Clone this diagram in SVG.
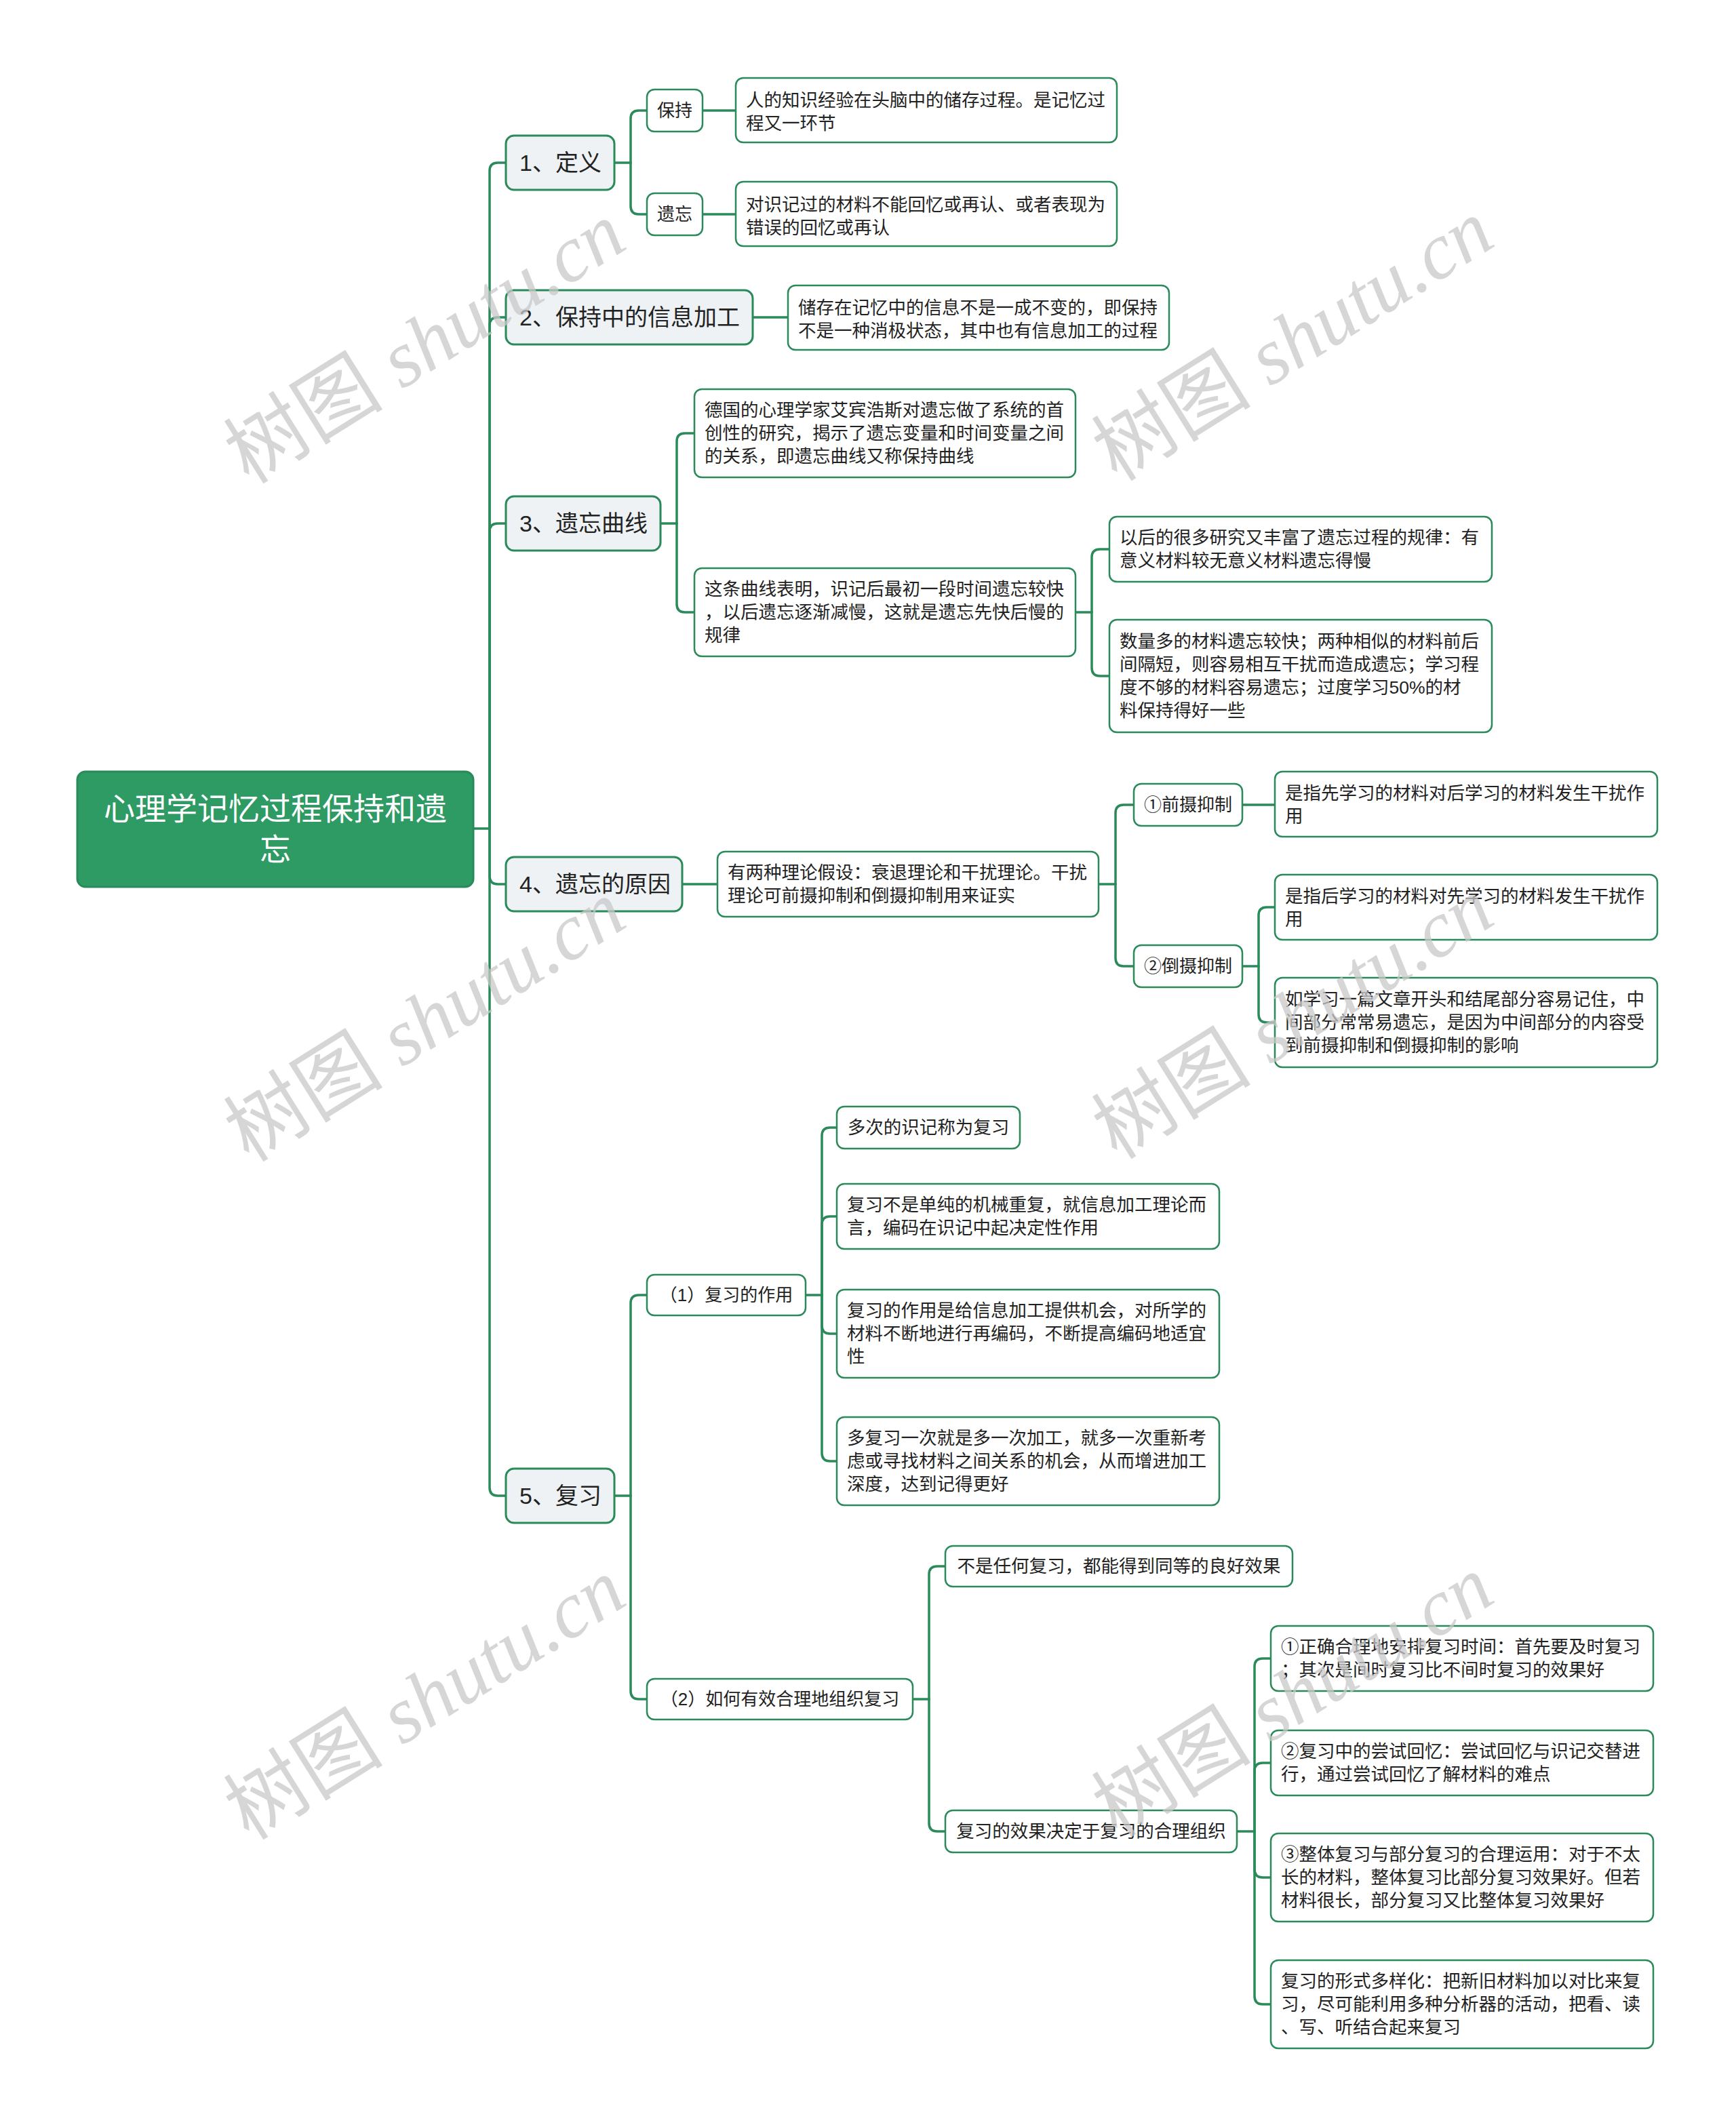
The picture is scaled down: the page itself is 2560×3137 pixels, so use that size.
<svg xmlns="http://www.w3.org/2000/svg" width="2560" height="3137" viewBox="0 0 2560 3137">
<style>
text{font-family:"Liberation Sans","Noto Sans CJK SC",sans-serif;dominant-baseline:central;fill:#222}
.root rect{fill:#2e9a64;stroke:#2a8a5a;stroke-width:3}
.root text{fill:#fff;font-size:46px;text-anchor:middle}
.l1 rect{fill:#eef2f5;stroke:#2a8a5a;stroke-width:3}
.l1 text{font-size:34px}
.sm rect{fill:#fff;stroke:#2a8a5a;stroke-width:2.5}
.sm text{font-size:26px;text-anchor:middle}
.lf rect{fill:#fff;stroke:#2a8a5a;stroke-width:2.5}
.lf text{font-size:26.5px}
.c1 text{text-anchor:middle}
#connectors path{fill:none;stroke:#2a8a5a;stroke-width:3.5;stroke-linecap:round}
.wm{font-family:"Liberation Serif","Noto Sans CJK SC",serif;font-size:118px;fill:#c9c9c9;opacity:0.75;text-anchor:middle;dominant-baseline:auto}
</style>
<rect width="2560" height="3137" fill="#fff"/>
<g id="connectors">
<path d="M698,1222 H722"/>
<path d="M722,1222 V252 Q722,240 734,240 H746"/>
<path d="M722,1222 V480 Q722,468 734,468 H746"/>
<path d="M722,1222 V784 Q722,772 734,772 H746"/>
<path d="M722,1222 V1292 Q722,1304 734,1304 H746"/>
<path d="M722,1222 V2194 Q722,2206 734,2206 H746"/>
<path d="M906,240 H930"/>
<path d="M930,240 V175 Q930,163 942,163 H954"/>
<path d="M930,240 V304 Q930,316 942,316 H954"/>
<path d="M1036,163 H1085"/>
<path d="M1036,316 H1085"/>
<path d="M1110,468 H1162"/>
<path d="M974,772 H998"/>
<path d="M998,772 V651 Q998,639 1010,639 H1024"/>
<path d="M998,772 V891 Q998,903 1010,903 H1024"/>
<path d="M1586,903 H1610"/>
<path d="M1610,903 V822 Q1610,810 1622,810 H1636"/>
<path d="M1610,903 V985 Q1610,997 1622,997 H1636"/>
<path d="M1006,1304 H1058"/>
<path d="M1620,1304 H1645"/>
<path d="M1645,1304 V1199 Q1645,1187 1657,1187 H1672"/>
<path d="M1645,1304 V1413 Q1645,1425 1657,1425 H1672"/>
<path d="M1832,1187 H1880"/>
<path d="M1832,1425 H1856"/>
<path d="M1856,1425 V1350 Q1856,1338 1868,1338 H1880"/>
<path d="M1856,1425 V1496 Q1856,1508 1868,1508 H1880"/>
<path d="M906,2206 H930"/>
<path d="M930,2206 V1922 Q930,1910 942,1910 H954"/>
<path d="M930,2206 V2494 Q930,2506 942,2506 H954"/>
<path d="M1188,1910 H1212"/>
<path d="M1212,1910 V1675 Q1212,1663 1224,1663 H1234"/>
<path d="M1212,1910 V1806 Q1212,1794 1224,1794 H1234"/>
<path d="M1212,1910 V1955 Q1212,1967 1224,1967 H1234"/>
<path d="M1212,1910 V2143 Q1212,2155 1224,2155 H1234"/>
<path d="M1346,2506 H1370"/>
<path d="M1370,2506 V2322 Q1370,2310 1382,2310 H1394"/>
<path d="M1370,2506 V2689 Q1370,2701 1382,2701 H1394"/>
<path d="M1824,2701 H1850"/>
<path d="M1850,2701 V2458 Q1850,2446 1862,2446 H1874"/>
<path d="M1850,2701 V2612 Q1850,2600 1862,2600 H1874"/>
<path d="M1850,2701 V2757 Q1850,2769 1862,2769 H1874"/>
<path d="M1850,2701 V2944 Q1850,2956 1862,2956 H1874"/>
</g>
<g id="root" class="root"><rect x="114" y="1138" width="584" height="170" rx="12"/><text x="406" y="1193">心理学记忆过程保持和遗</text><text x="406" y="1253">忘</text></g>
<g id="n1" class="l1"><rect x="746" y="200" width="160" height="80" rx="12"/><text x="766" y="240">1、定义</text></g>
<g id="n2" class="l1"><rect x="746" y="428" width="364" height="80" rx="12"/><text x="766" y="468">2、保持中的信息加工</text></g>
<g id="n3" class="l1"><rect x="746" y="732" width="228" height="80" rx="12"/><text x="766" y="772">3、遗忘曲线</text></g>
<g id="n4" class="l1"><rect x="746" y="1264" width="260" height="80" rx="12"/><text x="766" y="1304">4、遗忘的原因</text></g>
<g id="n5" class="l1"><rect x="746" y="2166" width="160" height="80" rx="12"/><text x="766" y="2206">5、复习</text></g>
<g id="n1a" class="sm"><rect x="954" y="132" width="82" height="62" rx="11"/><text x="995" y="163">保持</text></g>
<g id="n1b" class="sm"><rect x="954" y="285" width="82" height="62" rx="11"/><text x="995" y="316">遗忘</text></g>
<g id="n4a" class="sm"><rect x="1672" y="1156" width="160" height="62" rx="11"/><text x="1752" y="1187">①前摄抑制</text></g>
<g id="n4b" class="sm"><rect x="1672" y="1394" width="160" height="62" rx="11"/><text x="1752" y="1425">②倒摄抑制</text></g>
<g id="n5a" class="sm"><rect x="954" y="1880" width="234" height="60" rx="11"/><text x="1071" y="1910">（1）复习的作用</text></g>
<g id="n5b" class="sm"><rect x="954" y="2476" width="392" height="60" rx="11"/><text x="1150" y="2506">（2）如何有效合理地组织复习</text></g>
<g id="leaf1a" class="lf"><rect x="1085" y="115" width="562" height="95" rx="11"/><text x="1100" y="148">人的知识经验在头脑中的储存过程。是记忆过</text><text x="1100" y="182">程又一环节</text></g>
<g id="leaf1b" class="lf"><rect x="1085" y="268" width="562" height="95" rx="11"/><text x="1100" y="302">对识记过的材料不能回忆或再认、或者表现为</text><text x="1100" y="336">错误的回忆或再认</text></g>
<g id="leaf2" class="lf"><rect x="1162" y="421" width="562" height="95" rx="11"/><text x="1177" y="454">储存在记忆中的信息不是一成不变的，即保持</text><text x="1177" y="488">不是一种消极状态，其中也有信息加工的过程</text></g>
<g id="leaf3a" class="lf"><rect x="1024" y="574" width="562" height="130" rx="11"/><text x="1039" y="605">德国的心理学家艾宾浩斯对遗忘做了系统的首</text><text x="1039" y="639">创性的研究，揭示了遗忘变量和时间变量之间</text><text x="1039" y="673">的关系，即遗忘曲线又称保持曲线</text></g>
<g id="leaf3b" class="lf"><rect x="1024" y="838" width="562" height="130" rx="11"/><text x="1039" y="869">这条曲线表明，识记后最初一段时间遗忘较快</text><text x="1039" y="903">，以后遗忘逐渐减慢，这就是遗忘先快后慢的</text><text x="1039" y="937">规律</text></g>
<g id="leaf3c" class="lf"><rect x="1636" y="762" width="564" height="96" rx="11"/><text x="1651" y="793">以后的很多研究又丰富了遗忘过程的规律：有</text><text x="1651" y="827">意义材料较无意义材料遗忘得慢</text></g>
<g id="leaf3d" class="lf"><rect x="1636" y="914" width="564" height="166" rx="11"/><text x="1651" y="946">数量多的材料遗忘较快；两种相似的材料前后</text><text x="1651" y="980">间隔短，则容易相互干扰而造成遗忘；学习程</text><text x="1651" y="1014">度不够的材料容易遗忘；过度学习50%的材</text><text x="1651" y="1048">料保持得好一些</text></g>
<g id="leaf4" class="lf"><rect x="1058" y="1256" width="562" height="96" rx="11"/><text x="1073" y="1287">有两种理论假设：衰退理论和干扰理论。干扰</text><text x="1073" y="1321">理论可前摄抑制和倒摄抑制用来证实</text></g>
<g id="leaf4a" class="lf"><rect x="1880" y="1138" width="564" height="96" rx="11"/><text x="1895" y="1170">是指先学习的材料对后学习的材料发生干扰作</text><text x="1895" y="1204">用</text></g>
<g id="leaf4b1" class="lf"><rect x="1880" y="1290" width="564" height="96" rx="11"/><text x="1895" y="1322">是指后学习的材料对先学习的材料发生干扰作</text><text x="1895" y="1356">用</text></g>
<g id="leaf4b2" class="lf"><rect x="1880" y="1442" width="564" height="132" rx="11"/><text x="1895" y="1474">如学习一篇文章开头和结尾部分容易记住，中</text><text x="1895" y="1508">间部分常常易遗忘，是因为中间部分的内容受</text><text x="1895" y="1542">到前摄抑制和倒摄抑制的影响</text></g>
<g id="leaf5a1" class="lf c1"><rect x="1234" y="1632" width="270" height="62" rx="11"/><text x="1369" y="1663">多次的识记称为复习</text></g>
<g id="leaf5a2" class="lf"><rect x="1234" y="1746" width="564" height="96" rx="11"/><text x="1249" y="1777">复习不是单纯的机械重复，就信息加工理论而</text><text x="1249" y="1811">言，编码在识记中起决定性作用</text></g>
<g id="leaf5a3" class="lf"><rect x="1234" y="1902" width="564" height="130" rx="11"/><text x="1249" y="1933">复习的作用是给信息加工提供机会，对所学的</text><text x="1249" y="1967">材料不断地进行再编码，不断提高编码地适宜</text><text x="1249" y="2001">性</text></g>
<g id="leaf5a4" class="lf"><rect x="1234" y="2090" width="564" height="130" rx="11"/><text x="1249" y="2121">多复习一次就是多一次加工，就多一次重新考</text><text x="1249" y="2155">虑或寻找材料之间关系的机会，从而增进加工</text><text x="1249" y="2189">深度，达到记得更好</text></g>
<g id="leaf5b1" class="lf c1"><rect x="1394" y="2280" width="512" height="60" rx="11"/><text x="1650" y="2310">不是任何复习，都能得到同等的良好效果</text></g>
<g id="leaf5b2" class="lf c1"><rect x="1394" y="2670" width="430" height="62" rx="11"/><text x="1609" y="2701">复习的效果决定于复习的合理组织</text></g>
<g id="leaf5b2a" class="lf"><rect x="1874" y="2398" width="564" height="96" rx="11"/><text x="1889" y="2429">①正确合理地安排复习时间：首先要及时复习</text><text x="1889" y="2463">；其次是间时复习比不间时复习的效果好</text></g>
<g id="leaf5b2b" class="lf"><rect x="1874" y="2552" width="564" height="96" rx="11"/><text x="1889" y="2583">②复习中的尝试回忆：尝试回忆与识记交替进</text><text x="1889" y="2617">行，通过尝试回忆了解材料的难点</text></g>
<g id="leaf5b2c" class="lf"><rect x="1874" y="2704" width="564" height="130" rx="11"/><text x="1889" y="2735">③整体复习与部分复习的合理运用：对于不太</text><text x="1889" y="2769">长的材料，整体复习比部分复习效果好。但若</text><text x="1889" y="2803">材料很长，部分复习又比整体复习效果好</text></g>
<g id="leaf5b2d" class="lf"><rect x="1874" y="2891" width="564" height="130" rx="11"/><text x="1889" y="2922">复习的形式多样化：把新旧材料加以对比来复</text><text x="1889" y="2956">习，尽可能利用多种分析器的活动，把看、读</text><text x="1889" y="2990">、写、听结合起来复习</text></g>
<g id="watermarks">
<text class="wm" transform="translate(648,540) rotate(-32)">树图 <tspan font-style="italic">shutu.cn</tspan></text>
<text class="wm" transform="translate(1928,536) rotate(-32)">树图 <tspan font-style="italic">shutu.cn</tspan></text>
<text class="wm" transform="translate(648,1540) rotate(-32)">树图 <tspan font-style="italic">shutu.cn</tspan></text>
<text class="wm" transform="translate(1928,1536) rotate(-32)">树图 <tspan font-style="italic">shutu.cn</tspan></text>
<text class="wm" transform="translate(648,2540) rotate(-32)">树图 <tspan font-style="italic">shutu.cn</tspan></text>
<text class="wm" transform="translate(1928,2536) rotate(-32)">树图 <tspan font-style="italic">shutu.cn</tspan></text>
</g>
</svg>
